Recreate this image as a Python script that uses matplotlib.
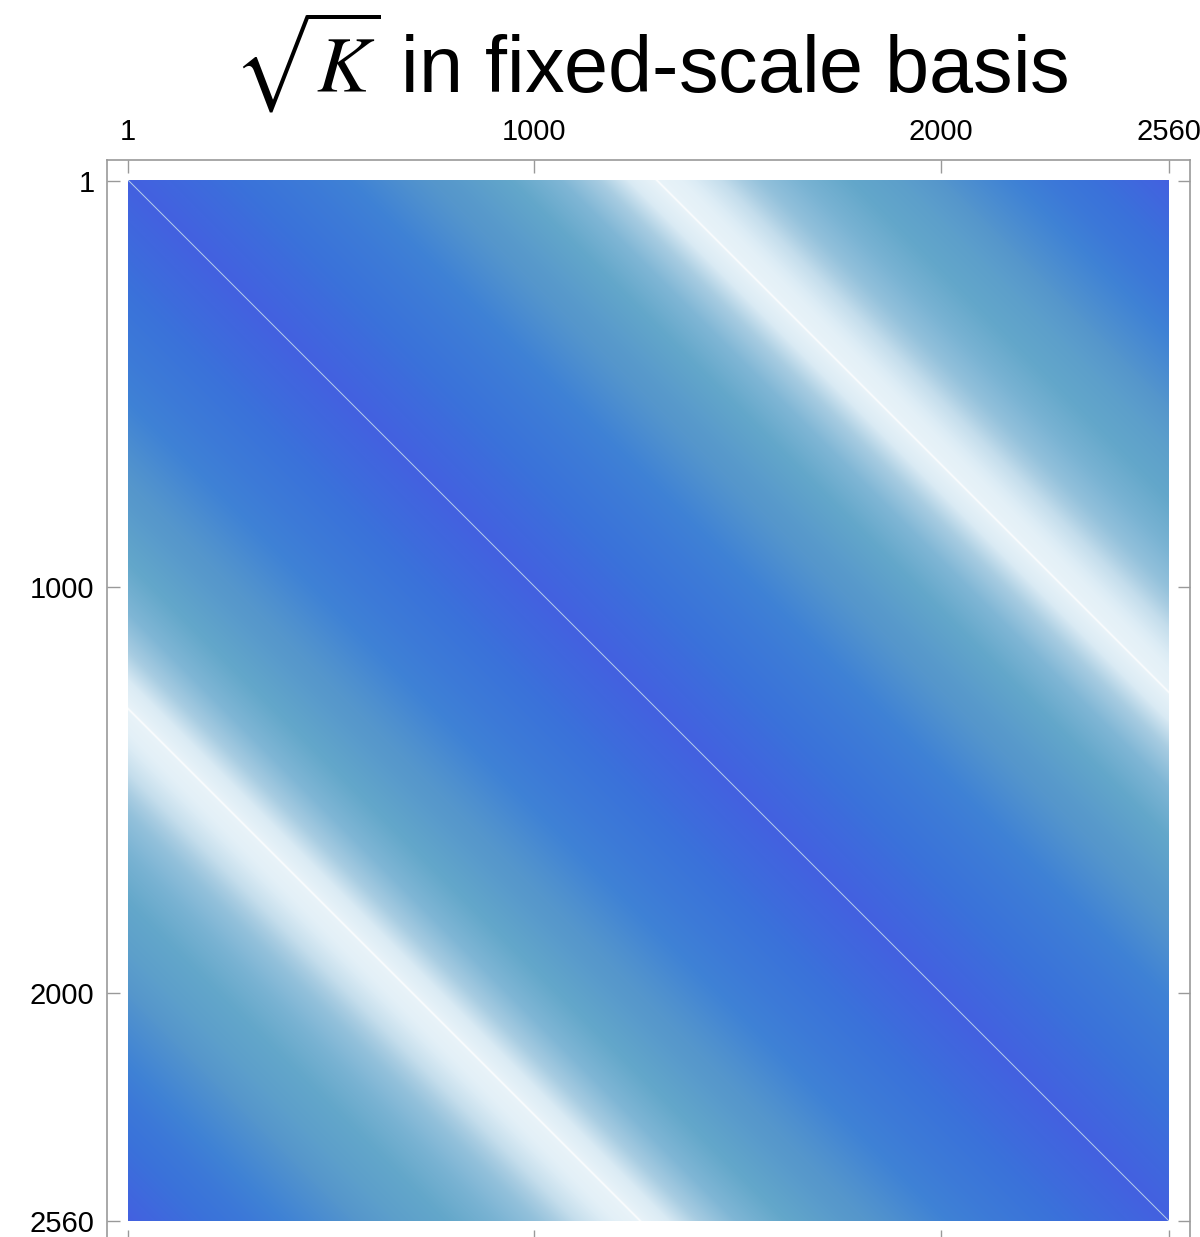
import numpy as np
import matplotlib
matplotlib.use('Agg')
import matplotlib.pyplot as plt
from matplotlib.colors import LinearSegmentedColormap

plt.rcParams['font.family'] = ['Liberation Sans', 'DejaVu Sans']
plt.rcParams['mathtext.fontset'] = 'stix'

# matrix size and tick marks
n = 2560
ticks = [1, 1000, 2000, 2560]
tick_labels = ['1', '1000', '2000', '2560']

# |i-j| -> magnitude (0 = white, 1 = deep blue)
lag = [0, 1, 2, 177, 300, 423, 546, 670, 792, 916, 1063, 1161, 1230, 1295, 1300,
       1305, 1360, 1456, 1555, 1653, 1776, 1899, 2022, 2145, 2268, 2391, 2559]
mag = [0.0, 0.3, 1.0, 0.95, 0.91, 0.87, 0.82, 0.74, 0.67, 0.57, 0.45, 0.3, 0.16, 0.1, 0.0,
       0.1, 0.12, 0.22, 0.38, 0.47, 0.55, 0.62, 0.72, 0.8, 0.88, 0.93, 1.0]

# colour scale
stops = [0.0, 0.15, 0.3, 0.45, 0.55, 0.7, 0.82, 0.92, 1.0]
colors = ['#ffffff', '#dcecf5', '#a9cde2', '#7fb6d5', '#63a7ca',
          '#5596cc', '#3f82d5', '#3a72da', '#4361e0']
cmap = LinearSegmentedColormap.from_list('kblue', list(zip(stops, colors)))

idx = np.arange(n)
profile = np.interp(np.arange(n), lag, mag)
K = profile[np.abs(idx[:, None] - idx[None, :])]

fig = plt.figure(figsize=(12, 12.37), dpi=100)
ax = fig.add_axes([107 / 1200, 1 - 1242 / 1237, 1083 / 1200, 1082 / 1237])
ax.imshow(K, cmap=cmap, vmin=0, vmax=1, extent=(0.5, n + 0.5, n + 0.5, 0.5),
          interpolation='antialiased', aspect='auto')

pad = 21 / 0.40625
ax.set_xlim(0.5 - pad, n + 0.5 + pad)
ax.set_ylim(n + 0.5 + pad, 0.5 - pad)

ax.set_xticks(ticks)
ax.set_xticklabels(tick_labels)
ax.set_yticks(ticks)
ax.set_yticklabels(tick_labels)
ax.tick_params(axis='both', direction='in', length=9, width=1, color='#999999',
               top=True, bottom=True, left=True, right=True,
               labeltop=True, labelbottom=False, labelleft=True, labelright=False,
               labelsize=21)
ax.tick_params(axis='x', pad=10)
ax.tick_params(axis='y', pad=9)
for s in ax.spines.values():
    s.set_color('#999999')
    s.set_linewidth(1.2)

fig.text(651 / 1200, 1 - 93 / 1237, r'$\sqrt{K}$ in fixed-scale basis',
         ha='center', va='baseline', fontsize=57)

fig.savefig('out.png', dpi=100)
